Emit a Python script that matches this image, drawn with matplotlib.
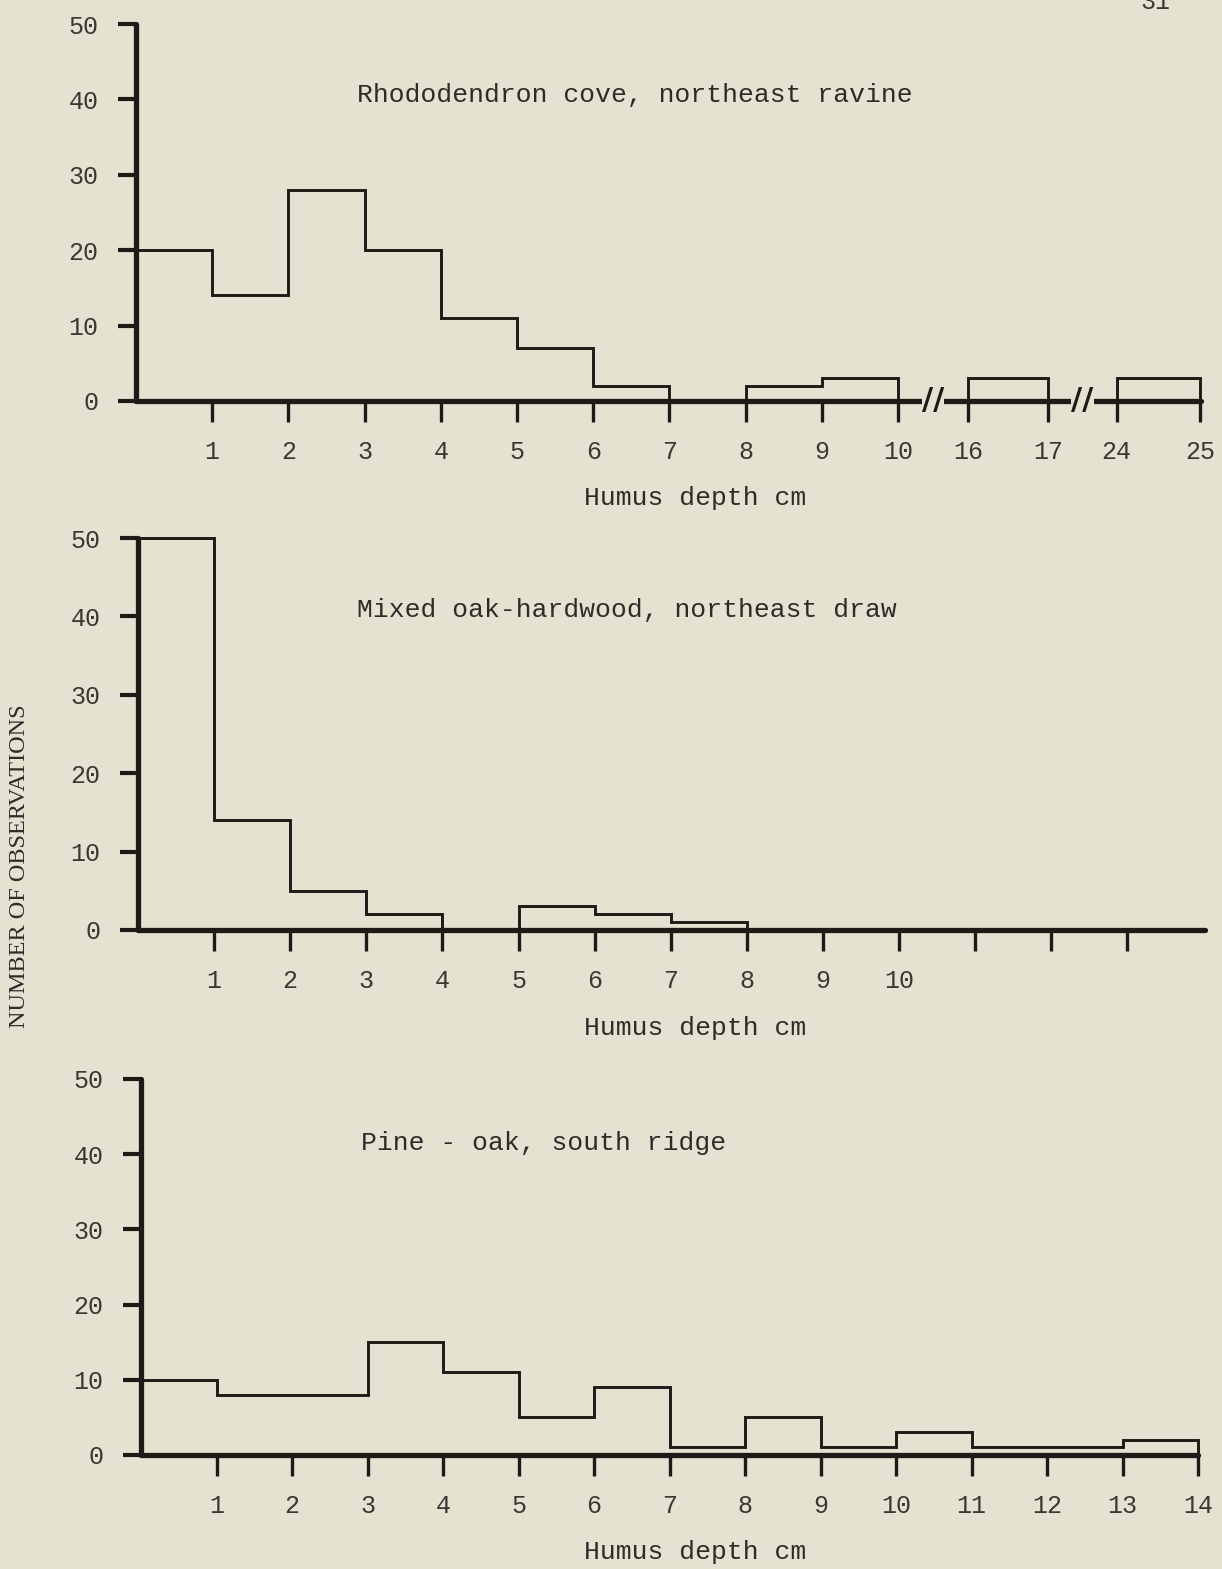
import numpy as np
import matplotlib
matplotlib.use("Agg")
import matplotlib.pyplot as plt

# ---------------- data ----------------
titles = ["Rhododendron cove, northeast ravine",
          "Mixed oak-hardwood, northeast draw",
          "Pine - oak, south ridge"]

# Panel 1 (with broken axis): bins 0-1 ... 9-10, 16-17, 24-25
p1_bin_starts = [0, 1, 2, 3, 4, 5, 6, 7, 8, 9, 16, 24]
p1_counts = [20, 14, 28, 20, 11, 7, 2, 0, 2, 3, 3, 3]
p1_tick_labels = ["1", "2", "3", "4", "5", "6", "7", "8", "9", "10", "16", "17", "24", "25"]
p1_tick_depths = [1, 2, 3, 4, 5, 6, 7, 8, 9, 10, 16, 17, 24, 25]

# Panel 2: bins 0-1 ... 7-8
p2_counts = [50, 14, 5, 2, 0, 3, 2, 1]
p2_tick_labels = ["1", "2", "3", "4", "5", "6", "7", "8", "9", "10", "", "", ""]

# Panel 3: bins 0-1 ... 13-14
p3_counts = [10, 8, 8, 15, 11, 5, 9, 1, 5, 1, 3, 1, 1, 2]
p3_tick_labels = ["1", "2", "3", "4", "5", "6", "7", "8", "9", "10", "11", "12", "13", "14"]

y_ticks = [0, 10, 20, 30, 40, 50]
x_label = "Humus depth cm"
y_label = "NUMBER OF OBSERVATIONS"

# ---------------- style ----------------
BG = "#e4e3d1"
INK = "#1d1b17"
TXT = "#2e2c28"
FONT = ["Liberation Mono", "DejaVu Sans Mono"]
plt.rcParams["font.family"] = FONT

W, H = 1222, 1569
fig = plt.figure(figsize=(W / 100, H / 100), dpi=100, facecolor=BG)

# broken-axis mapping for panel 1 (depth -> axis position)
def p1_pos(d):
    d = np.asarray(d, dtype=float)
    out = np.where((d >= 16) & (d <= 17), 10.92 + (d - 16) * 1.05, d)
    out = np.where(d >= 24, 12.87 + (d - 24) * 1.09, out)
    return out

def make_ax(top_px, bottom_px, left_px, u, xmax):
    ax = fig.add_axes([left_px / W, 1 - bottom_px / H,
                       u * xmax / W, (bottom_px - top_px) / H])
    ax.set_xlim(0, xmax)
    return ax

def style(ax):
    ax.set_facecolor("none")
    for s in ["top", "right"]:
        ax.spines[s].set_visible(False)
    for s in ["left", "bottom"]:
        ax.spines[s].set_linewidth(3.8)
        ax.spines[s].set_color(INK)
        ax.spines[s].set_capstyle("round")
    ax.set_ylim(0, 50)
    ax.set_yticks(y_ticks)
    ax.set_yticklabels([str(v) for v in y_ticks])
    ax.tick_params(axis="y", direction="out", length=13, width=3.0, color=INK,
                   labelsize=18, labelcolor="#3a3833", pad=14)
    ax.tick_params(axis="x", direction="out", length=15, width=2.4, color=INK,
                   labelsize=18, labelcolor="#3a3833", pad=13)

# ---- Panel 1 ----
ax1 = make_ax(24, 401, 136, 76.2, 13.97)
style(ax1)
starts = np.array(p1_bin_starts, dtype=float)
edges = []
vals = []
for i, s in enumerate(starts):
    a, b = float(p1_pos(s)), float(p1_pos(s + 1))
    if edges and abs(edges[-1] - a) > 1e-9:
        vals.append(0)
        edges.append(a)
    if not edges:
        edges.append(a)
    edges.append(b)
    vals.append(p1_counts[i])
ax1.stairs(vals, edges, baseline=0, color=INK, lw=2.1, clip_on=False)
ax1.set_xticks(p1_pos(p1_tick_depths))
ax1.set_xticklabels(p1_tick_labels)
for brk in [(p1_pos(10) + p1_pos(16)) / 2, (p1_pos(17) + p1_pos(24)) / 2]:
    ax1.text(float(brk), 0, "//", ha="center", va="center", fontsize=22,
             fontweight="bold", color=INK, family=["DejaVu Sans"],
             bbox=dict(boxstyle="square,pad=0.0", fc=BG, ec="none"))

# ---- Panel 2 ----
ax2 = make_ax(538, 930, 138, 76.1, 14.02)
style(ax2)
ax2.stairs(p2_counts, np.arange(len(p2_counts) + 1), baseline=0, color=INK,
           lw=2.1, clip_on=False)
ax2.set_xticks(np.arange(1, len(p2_tick_labels) + 1))
ax2.set_xticklabels(p2_tick_labels)

# ---- Panel 3 ----
ax3 = make_ax(1079, 1455, 141, 75.5, 14.0)
style(ax3)
ax3.stairs(p3_counts, np.arange(len(p3_counts) + 1), baseline=0, color=INK,
           lw=2.1, clip_on=False)
ax3.set_xticks(np.arange(1, len(p3_tick_labels) + 1))
ax3.set_xticklabels(p3_tick_labels)

# ---- Texts ----
txt_kw = dict(fontsize=19, color=TXT, ha="left", va="center")
fig.text(357 / W, 1 - 95 / H, titles[0], **txt_kw)
fig.text(357 / W, 1 - 610 / H, titles[1], **txt_kw)
fig.text(361 / W, 1 - 1143 / H, titles[2], **txt_kw)

for y in [498, 1028, 1552]:
    fig.text(695 / W, 1 - y / H, x_label, fontsize=19, color=TXT,
             ha="center", va="center")

fig.text(20 / W, 1 - 866 / H, y_label, rotation=90, fontsize=17.5,
         color=TXT, ha="center", va="center",
         family=["Liberation Serif", "DejaVu Serif"])

fig.text(1155 / W, 1 - 2 / H, "31", fontsize=18, color="#3a3833",
         ha="center", va="center")

fig.savefig("out.png", dpi=100, facecolor=BG)
